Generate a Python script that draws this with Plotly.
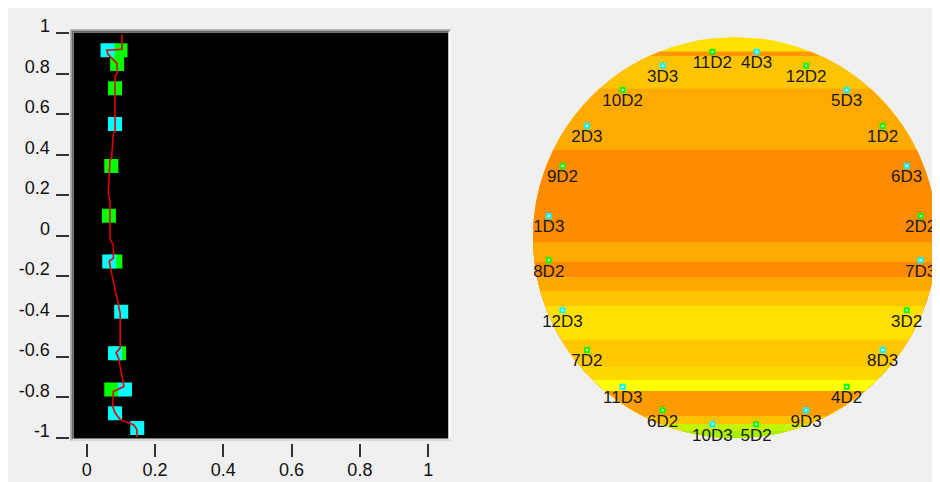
import numpy as np
import plotly.graph_objects as go

PAGE_W, PAGE_H = 940, 482
OFF = 8                      # browser body margin
W, H = PAGE_W - OFF, PAGE_H - OFF

# ---------------- left panel data ----------------
green_x = [0.099, 0.089, 0.083, 0.072, 0.065, 0.084, 0.095, 0.072]
green_y = [0.915, 0.847, 0.728, 0.344, 0.097, -0.128, -0.582, -0.761]
cyan_x = [0.061, 0.083, 0.066, 0.101, 0.083, 0.112, 0.083, 0.148]
cyan_y = [0.915, 0.551, -0.128, -0.377, -0.582, -0.761, -0.878, -0.951]

curve_x = [0.103, 0.103, 0.059, 0.062, 0.088, 0.090, 0.083, 0.083, 0.078, 0.073,
           0.068, 0.063, 0.068, 0.068, 0.078, 0.078, 0.066, 0.068, 0.098, 0.098,
           0.086, 0.093, 0.109, 0.078, 0.076, 0.083, 0.098, 0.137, 0.147, 0.147]
curve_y = [0.994, 0.920, 0.915, 0.895, 0.852, 0.803, 0.787, 0.516, 0.502, 0.385,
           0.369, 0.213, 0.172, -0.015, -0.049, -0.113, -0.126, -0.148, -0.384, -0.556,
           -0.580, -0.605, -0.746, -0.771, -0.845, -0.876, -0.910, -0.935, -0.959, -0.995]

y_tick_vals = [1, 0.8, 0.6, 0.4, 0.2, 0, -0.2, -0.4, -0.6, -0.8, -1]
y_tick_text = ["1", "0.8", "0.6", "0.4", "0.2", "0", "-0.2", "-0.4", "-0.6", "-0.8", "-1"]
x_tick_vals = [0, 0.2, 0.4, 0.6, 0.8, 1]
x_tick_text = ["0", "0.2", "0.4", "0.6", "0.8", "1"]

# ---------------- right panel data ----------------
probe_labels = ["11D2", "4D3", "3D3", "12D2", "10D2", "5D3", "2D3", "1D2",
                "9D2", "6D3", "1D3", "2D2", "8D2", "7D3", "12D3", "3D2",
                "7D2", "8D3", "11D3", "4D2", "6D2", "9D3", "10D3", "5D2"]
probe_x = [-0.112, 0.107, -0.358, 0.352, -0.556, 0.553, -0.733, 0.731,
           -0.854, 0.850, -0.922, 0.919, -0.922, 0.919, -0.854, 0.850,
           -0.733, 0.731, -0.556, 0.553, -0.358, 0.352, -0.112, 0.105]
probe_y = [0.927, 0.927, 0.857, 0.857, 0.736, 0.736, 0.556, 0.556,
           0.357, 0.357, 0.107, 0.107, -0.114, -0.114, -0.363, -0.363,
           -0.561, -0.561, -0.744, -0.744, -0.862, -0.862, -0.932, -0.932]

band_tops = [1.0, 0.928, 0.905, 0.743, 0.436, -0.022, -0.122, -0.197, -0.267,
             -0.342, -0.511, -0.646, -0.711, -0.766, -0.890, -0.930, -0.965]
band_colors = ["#FFE000", "#FF9800", "#FFC400", "#FFAA00", "#FF8C00", "#FFAA00",
               "#FF8C00", "#FFA800", "#FFC400", "#FFE000", "#FFC800", "#FFD800",
               "#FFFF00", "#FF9C00", "#FFC000", "#C4F400", "#A4F000"]

GREEN = "#00FF00"
CYAN = "#00FFFF"
FONT = "Arial, Liberation Sans, sans-serif"


def px_x(p):
    """page pixel x -> paper fraction"""
    return (p - OFF) / W


def px_y(p):
    """page pixel y -> paper fraction"""
    return (PAGE_H - p) / H


fig = go.Figure()

# left panel traces
fig.add_trace(go.Scatter(x=green_x, y=green_y, mode="markers", xaxis="x", yaxis="y",
                         marker=dict(symbol="square", size=14, color=GREEN, line=dict(width=0)),
                         showlegend=False, hoverinfo="skip"))
fig.add_trace(go.Scatter(x=cyan_x, y=cyan_y, mode="markers", xaxis="x", yaxis="y",
                         marker=dict(symbol="square", size=14, color=CYAN, line=dict(width=0)),
                         showlegend=False, hoverinfo="skip"))
fig.add_trace(go.Scatter(x=curve_x, y=curve_y, mode="lines", xaxis="x", yaxis="y",
                         line=dict(color="#E00000", width=1.6),
                         showlegend=False, hoverinfo="skip"))

# right panel: horizontal colour bands clipped to the unit disc
for top, col in zip(band_tops, band_colors):
    ys = np.linspace(-1.0, top, 240)
    xs = np.sqrt(np.clip(1 - ys ** 2, 0, None))
    bx = np.concatenate([xs, -xs[::-1]])
    by = np.concatenate([ys, ys[::-1]])
    fig.add_trace(go.Scatter(x=bx, y=by, mode="lines", fill="toself", fillcolor=col,
                             line=dict(width=0, color=col), xaxis="x2", yaxis="y2",
                             showlegend=False, hoverinfo="skip"))

probe_colors = [GREEN if lab.endswith("D2") else CYAN for lab in probe_labels]
fig.add_trace(go.Scatter(x=probe_x, y=probe_y, mode="markers+text", text=probe_labels,
                         textposition="bottom center", xaxis="x2", yaxis="y2",
                         cliponaxis=False,
                         textfont=dict(family=FONT, size=17, color="#1a1a1a"),
                         marker=dict(symbol="square", size=4, color="white",
                                     line=dict(width=2, color=probe_colors)),
                         showlegend=False, hoverinfo="skip"))

# left plot frame (black area with sunken border)
L, R, T, B = 73.5, 448.5, 32.5, 438.5
shapes = [
    dict(type="rect", xref="paper", yref="paper", x0=px_x(L), x1=px_x(R), y0=px_y(B), y1=px_y(T),
         fillcolor="black", line=dict(width=0), layer="below"),
    dict(type="line", xref="paper", yref="paper", x0=px_x(L - 2.5), x1=px_x(L - 2.5),
         y0=px_y(B + 2), y1=px_y(T - 3), line=dict(color="#A0A0A0", width=1.5)),
    dict(type="line", xref="paper", yref="paper", x0=px_x(L - 1), x1=px_x(L - 1),
         y0=px_y(B + 1), y1=px_y(T - 1.5), line=dict(color="#696969", width=1.5)),
    dict(type="line", xref="paper", yref="paper", x0=px_x(L - 3), x1=px_x(R + 2),
         y0=px_y(T - 2.5), y1=px_y(T - 2.5), line=dict(color="#A0A0A0", width=1.5)),
    dict(type="line", xref="paper", yref="paper", x0=px_x(L - 1.5), x1=px_x(R + 1),
         y0=px_y(T - 1), y1=px_y(T - 1), line=dict(color="#696969", width=1.5)),
    dict(type="line", xref="paper", yref="paper", x0=px_x(R + 1), x1=px_x(R + 1),
         y0=px_y(B + 2), y1=px_y(T - 1), line=dict(color="#FFFFFF", width=2)),
    dict(type="line", xref="paper", yref="paper", x0=px_x(L - 2), x1=px_x(R + 2),
         y0=px_y(B + 1.5), y1=px_y(B + 1.5), line=dict(color="#D8D8D8", width=2)),
]

tickfont = dict(family=FONT, size=18, color="#111111")

fig.update_layout(
    template="none",
    width=W, height=H, autosize=False,
    margin=dict(l=0, r=0, t=0, b=0, pad=0),
    paper_bgcolor="#F0F0F0", plot_bgcolor="rgba(0,0,0,0)",
    shapes=shapes,
    xaxis=dict(domain=[px_x(L), px_x(R)], range=[-0.0387, 1.0595], anchor="free",
               position=px_y(443), showgrid=False, zeroline=False, showline=False,
               automargin=False,
               ticks="outside", ticklen=13, tickwidth=2, tickcolor="#333333",
               tickvals=x_tick_vals, ticktext=x_tick_text, tickfont=tickfont,
               ticklabelstandoff=-3, fixedrange=True),
    yaxis=dict(domain=[px_y(B), px_y(T)], range=[-1.003, 1.003], anchor="free",
               position=px_x(68.5), showgrid=False, zeroline=False, showline=False,
               automargin=False,
               ticks="outside", ticklen=13, tickwidth=2, tickcolor="#333333",
               tickvals=y_tick_vals, ticktext=y_tick_text, tickfont=tickfont,
               ticklabelshift=-7, ticklabelstandoff=2, fixedrange=True),
    xaxis2=dict(domain=[px_x(533), px_x(937)], range=[-1, 1], anchor="y2",
                visible=False, fixedrange=True, automargin=False),
    yaxis2=dict(domain=[px_y(438), px_y(37)], range=[-1, 1], anchor="x2",
                visible=False, fixedrange=True, automargin=False),
)

fig.write_html("out.html")
